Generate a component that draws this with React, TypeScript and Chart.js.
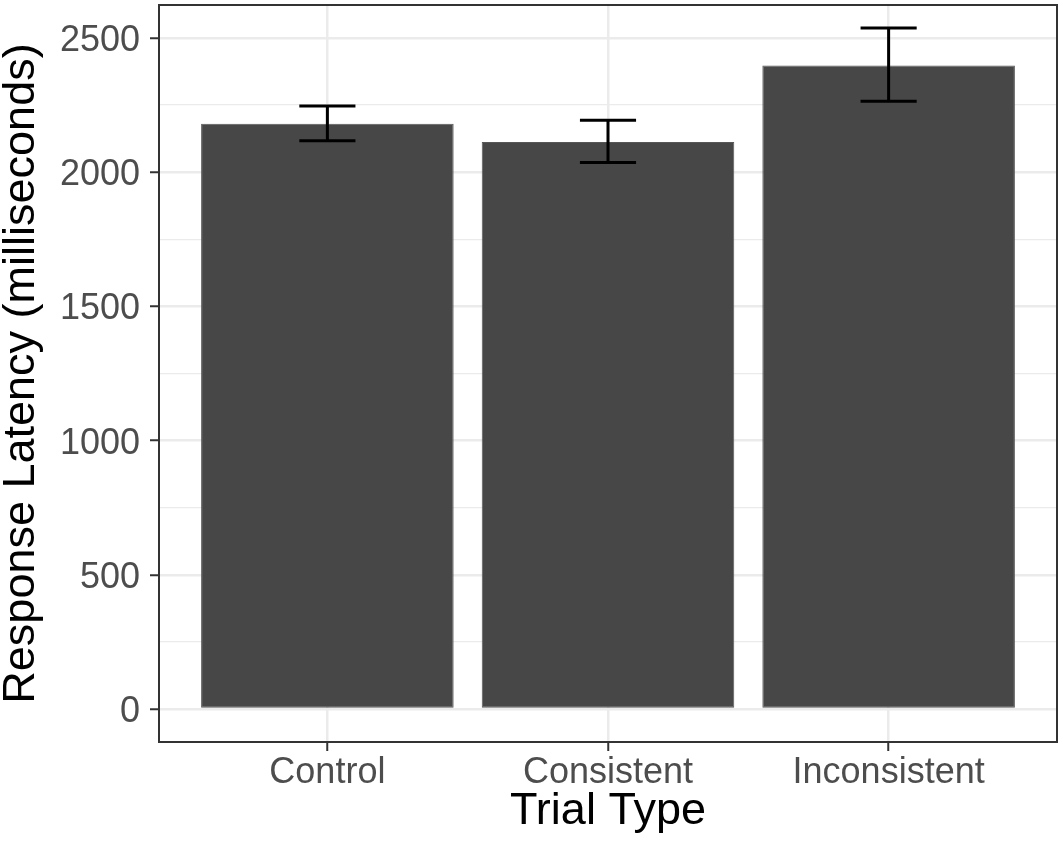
import React, { useEffect, useRef } from 'react';
import { Chart, registerables } from 'chart.js';

Chart.register(...registerables);

// ---- data ----
const categories = ['Control', 'Consistent', 'Inconsistent'];
const meanLatency = [2181, 2113, 2398];
const errorLow = [2117, 2036, 2264];
const errorHigh = [2247, 2194, 2537];
const yMajorTicks = [0, 500, 1000, 1500, 2000, 2500];
const yMinorTicks = [250, 750, 1250, 1750, 2250];

// ---- styles / layout ----
const Y_MIN = -123;
const Y_MAX = 2623;
const X_MIN = -0.6;
const X_MAX = 2.6;
const CAP_WIDTH = 0.2;
const FONT = "'Liberation Sans', Arial, Helvetica, sans-serif";

const errorBarPlugin = {
  id: 'errorBars',
  afterDatasetsDraw(chart: any) {
    const { ctx, scales } = chart;
    const x = scales.x;
    const y = scales.y;
    ctx.save();
    ctx.strokeStyle = '#000000';
    ctx.lineWidth = 3;
    ctx.lineCap = 'butt';
    categories.forEach((_, i) => {
      const cx = x.getPixelForValue(i);
      const half = x.getPixelForValue(i + CAP_WIDTH / 2) - cx;
      const yl = y.getPixelForValue(errorLow[i]);
      const yh = y.getPixelForValue(errorHigh[i]);
      ctx.beginPath();
      ctx.moveTo(cx, yl);
      ctx.lineTo(cx, yh);
      ctx.moveTo(cx - half, yl);
      ctx.lineTo(cx + half, yl);
      ctx.moveTo(cx - half, yh);
      ctx.lineTo(cx + half, yh);
      ctx.stroke();
    });
    ctx.restore();
  },
};

const panelBorderPlugin = {
  id: 'panelBorder',
  afterDraw(chart: any) {
    const { ctx, chartArea: a } = chart;
    ctx.save();
    ctx.strokeStyle = '#333333';
    ctx.lineWidth = 2;
    ctx.strokeRect(a.left, a.top, a.right - a.left, a.bottom - a.top);
    ctx.restore();
  },
};

export default function App() {
  const canvasRef = useRef<HTMLCanvasElement | null>(null);

  useEffect(() => {
    if (!canvasRef.current) return;
    const chart = new Chart(canvasRef.current, {
      type: 'bar',
      data: {
        datasets: [
          {
            label: 'Response Latency',
            data: categories.map((_, i) => ({ x: i, y: meanLatency[i] })),
            backgroundColor: '#474747',
            borderColor: '#575757',
            borderWidth: 1,
            borderSkipped: false,
            barPercentage: 0.9,
            categoryPercentage: 1,
          },
        ],
      },
      options: {
        responsive: false,
        animation: false,
        layout: { padding: { left: 0, top: 5, right: 6, bottom: 0 } },
        plugins: {
          legend: { display: false },
          tooltip: { enabled: false },
        },
        scales: {
          x: {
            type: 'linear',
            min: X_MIN,
            max: X_MAX,
            offset: false,
            afterBuildTicks: (s: any) => {
              s.ticks = categories.map((_, i) => ({ value: i }));
            },
            afterFit: (s: any) => {
              s.height = 106;
              s.paddingLeft = 0;
              s.paddingRight = 0;
            },
            ticks: {
              callback: (v: any) => categories[Math.round(Number(v))] ?? '',
              font: { family: FONT, size: 36 },
              color: '#4d4d4d',
              padding: 0,
              maxRotation: 0,
              autoSkip: false,
            },
            grid: {
              offset: false,
              color: '#ebebeb',
              lineWidth: 2.5,
              tickLength: 9,
              tickColor: '#333333',
              tickWidth: 2,
            },
            border: { display: false },
            title: {
              display: true,
              text: 'Trial Type',
              color: '#000000',
              font: { family: FONT, size: 45, lineHeight: 0.95 },
              padding: { top: 0, bottom: 15 },
            },
          },
          y: {
            type: 'linear',
            min: Y_MIN,
            max: Y_MAX,
            afterBuildTicks: (s: any) => {
              s.ticks = [...yMajorTicks, ...yMinorTicks]
                .sort((a, b) => a - b)
                .map((v) => ({ value: v }));
            },
            afterFit: (s: any) => {
              s.width = 159;
              s.paddingTop = 0;
              s.paddingBottom = 0;
            },
            ticks: {
              callback: (v: any) => (yMajorTicks.includes(Number(v)) ? String(v) : ''),
              font: { family: FONT, size: 36 },
              color: '#4d4d4d',
              padding: 10,
              labelOffset: 3,
              autoSkip: false,
            },
            grid: {
              color: '#ebebeb',
              lineWidth: (c: any) => (yMajorTicks.includes(c.tick?.value) ? 2.5 : 1.3),
              tickLength: 9,
              tickColor: (c: any) =>
                yMajorTicks.includes(c.tick?.value) ? '#333333' : 'rgba(0,0,0,0)',
              tickWidth: 2,
            },
            border: { display: false },
            title: {
              display: true,
              text: 'Response Latency (milliseconds)',
              color: '#000000',
              font: { family: FONT, size: 45, lineHeight: 0.95 },
              padding: { top: 0, bottom: 0 },
            },
          },
        },
      },
      plugins: [errorBarPlugin, panelBorderPlugin],
    } as any);
    return () => chart.destroy();
  }, []);

  return (
    <div style={{ position: 'absolute', left: 0, top: 0, width: 1063, height: 848, background: '#ffffff' }}>
      <canvas ref={canvasRef} width={1063} height={848} style={{ display: 'block', width: 1063, height: 848 }} />
    </div>
  );
}
